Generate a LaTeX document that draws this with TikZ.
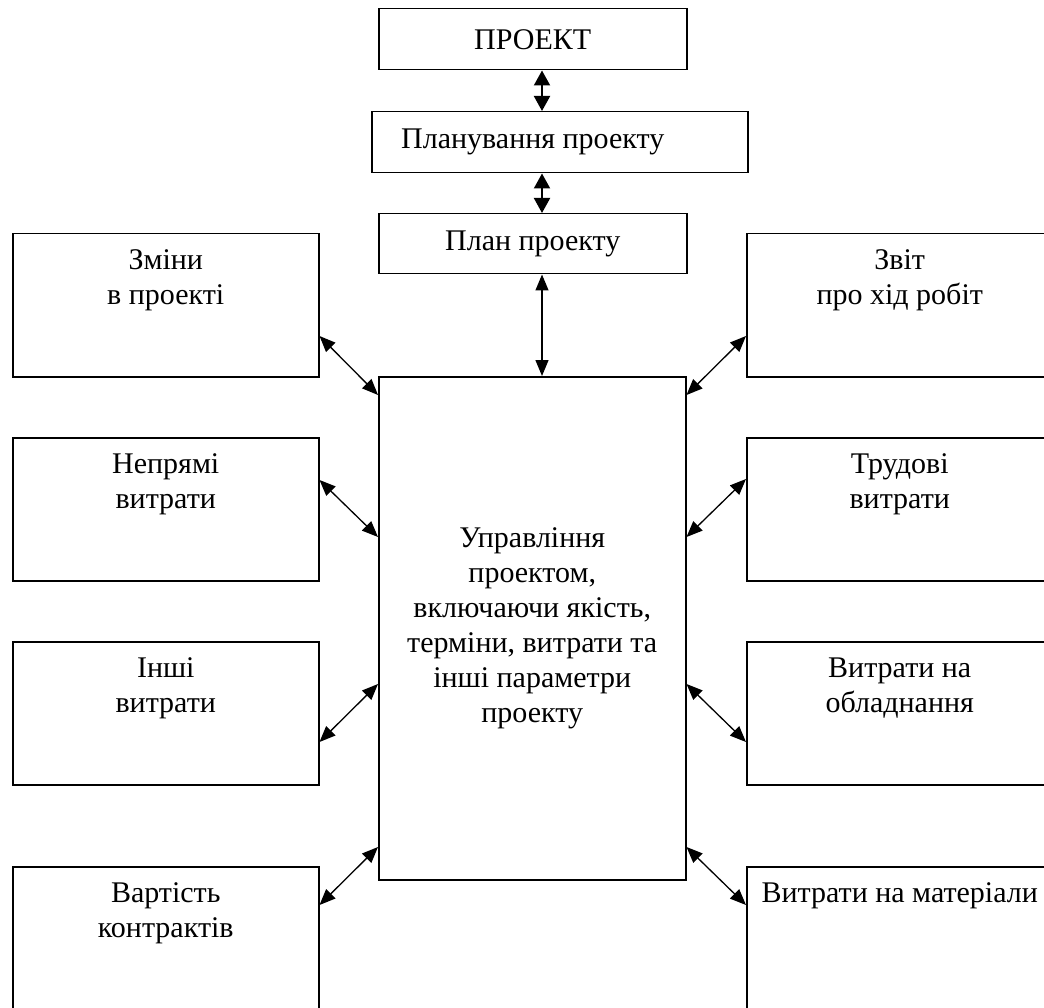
\documentclass[tikz,border=0pt]{standalone}
\usepackage{fontspec}
\setmainfont{Liberation Serif}
\usetikzlibrary{arrows.meta,calc}
\newcommand\diagfont{\fontsize{30}{35}\selectfont}
\begin{document}
\begin{tikzpicture}[x=1pt,y=-1pt,
  box/.style={draw, line width=1.5pt, inner sep=0pt, anchor=north west, font=\diagfont, align=center},
  side/.style={box, minimum width=306pt, minimum height=143pt},
  lbl/.style={anchor=north, inner sep=0pt, font=\diagfont, align=center},
  dbl/.style={{Triangle[length=16pt,width=13pt]}-{Triangle[length=16pt,width=13pt]}, line width=1.3pt},
  vdbl/.style={{Triangle[length=15pt,width=16pt]}-{Triangle[length=15pt,width=16pt]}, line width=2pt}]
\useasboundingbox (0,0) rectangle (1044,1008);
\clip (0,0) rectangle (1044,1008);
\fill[white] (0,0) rectangle (1044,1008);

% top chain
\node[box, minimum width=308pt, minimum height=61pt] (p) at (378,8) {ПРОЕКТ};
\node[box, minimum width=376pt, minimum height=61pt] (pl) at (371,111) {};
\node[inner sep=0pt, font=\diagfont] (plt) at (pl.center -| p.center) {Планування проекту};
\node[box, minimum width=308pt, minimum height=60pt] (pp) at (378,213) {План проекту};
\coordinate (ax) at (542,0);

% central
\node[box, minimum width=307pt, minimum height=503pt] (c) at (378,376)
  {Управління\\проектом,\\включаючи якість,\\терміни, витрати та\\інші параметри\\проекту};

% left boxes
\node[side] (l1) at (12,233) {};
\node[side] (l2) at (12,437) {};
\node[side] (l3) at (12,641) {};
\node[side] (l4) at (12,866) {};
% right boxes
\node[side] (r1) at (746,233) {};
\node[side] (r2) at (746,437) {};
\node[side] (r3) at (746,641) {};
\node[side] (r4) at (746,866) {};

% labels
\node[lbl] (tl1) at ($(l1.north)+(0,11.5)$) {\strut Зміни\\в проекті};
\node[lbl] (tl2) at ($(l2.north)+(0,11.5)$) {\strut Непрямі\\витрати};
\node[lbl] (tl3) at ($(l3.north)+(0,11.5)$) {\strut Інші\\витрати};
\node[lbl] (tl4) at ($(l4.north)+(0,11.5)$) {\strut Вартість\\контрактів};
\node[lbl] (tr1) at ($(r1.north)+(0,11.5)$) {\strut Звіт\\про хід робіт};
\node[lbl] (tr2) at ($(r2.north)+(0,11.5)$) {\strut Трудові\\витрати};
\node[lbl] (tr3) at ($(r3.north)+(0,11.5)$) {\strut Витрати на\\обладнання};
\node[lbl] (tr4) at ($(r4.north)+(0,11.5)$) {\strut Витрати на матеріали};

% vertical connectors
\draw[vdbl] (p.south -| ax) -- (pl.north -| ax);
\draw[vdbl] (pl.south -| ax) -- (pp.north -| ax);
\draw[dbl] (pp.south -| ax) -- (c.north -| ax);

% left connectors
\draw[dbl] ($(l1.north east)+(0,103)$) -- ($(c.north west)+(0,19)$);
\draw[dbl] ($(l2.north east)+(0,43)$) -- ($(c.north west)+(0,161)$);
\draw[dbl] ($(l3.north east)+(0,101)$) -- ($(c.north west)+(0,308)$);
\draw[dbl] ($(l4.north east)+(0,39)$) -- ($(c.north west)+(0,471)$);
% right connectors
\draw[dbl] ($(c.north east)+(0,19)$) -- ($(r1.north west)+(0,103)$);
\draw[dbl] ($(c.north east)+(0,161)$) -- ($(r2.north west)+(0,42)$);
\draw[dbl] ($(c.north east)+(0,308)$) -- ($(r3.north west)+(0,101)$);
\draw[dbl] ($(c.north east)+(0,471)$) -- ($(r4.north west)+(0,39)$);
\end{tikzpicture}
\end{document}
